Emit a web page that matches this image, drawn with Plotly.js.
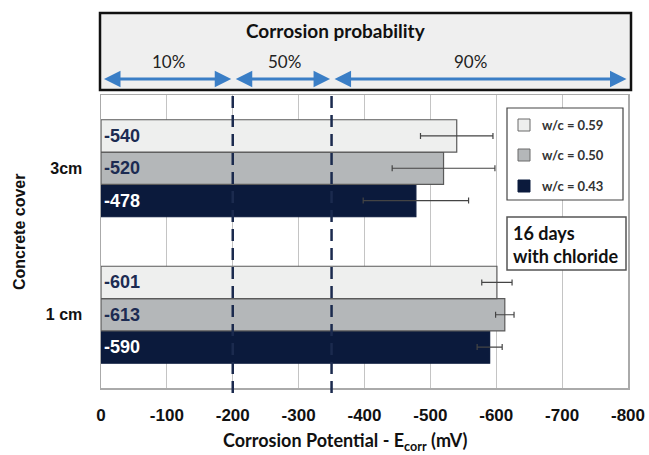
<!DOCTYPE html>
<html>
<head>
<meta charset="utf-8">
<script src="https://cdn.plot.ly/plotly-3.0.1.min.js"></script>
<style>
html,body{margin:0;padding:0;background:#fff;}
#chart{width:649px;height:455px;}
</style>
</head>
<body>
<div id="chart"></div>
<script>
// ---- data ----
const categories = ['3cm', '1 cm'];
const seriesNames = ['w/c = 0.59', 'w/c = 0.50', 'w/c = 0.43'];
const wc059 = [-540, -601];
const wc050 = [-520, -613];
const wc043 = [-478, -590];
const err059 = [55, 23];
const err050 = [78, 14];
const err043 = [80, 19];
const xTickVals = [0, -100, -200, -300, -400, -500, -600, -700, -800];
const xTickText = ['0', '-100', '-200', '-300', '-400', '-500', '-600', '-700', '-800'];
const probabilityBounds = [0, -200, -350, -800];
const probabilityLabels = ['10%', '50%', '90%'];

// ---- styling ----
const colors = ['#eeefee', '#b4b7b9', '#0b1a3c'];
const outlines = ['#5a5a5a', '#5a5a5a', '#0b1a3c'];
const labelColors = ['#1c2b52', '#1c2b52', '#ffffff'];
const ARIAL = 'Liberation Sans, Arial, sans-serif';
const CAL = 'Lato, Carlito, Calibri, sans-serif';

const W = 649, H = 455;
const M = {l: 101, r: 21, t: 95, b: 67};
const PW = W - M.l - M.r, PH = H - M.t - M.b;
const pxX = p => (p - M.l) / PW;
const pxY = p => (H - M.b - p) / PH;

const seriesVals = [wc059, wc050, wc043];
const seriesErr = [err059, err050, err043];

// trace order bottom->top inside group: 0.43, 0.50, 0.59
const traces = [2, 1, 0].map(i => ({
  type: 'bar',
  orientation: 'h',
  name: seriesNames[i],
  y: categories,
  x: seriesVals[i],
  text: seriesVals[i].map(v => String(v)),
  texttemplate: '<b>%{text}</b>',
  textposition: 'inside',
  insidetextanchor: 'start',
  textangle: 0,
  constraintext: 'none',
  insidetextfont: {family: ARIAL, size: 18, color: labelColors[i]},
  marker: {color: colors[i], line: {color: outlines[i], width: 1.2}},
  error_x: {type: 'data', array: seriesErr[i], visible: true, color: '#444444', thickness: 1.2, width: 3},
  hoverinfo: 'none',
  showlegend: false
}));

const shapes = [];
const annotations = [];

// top probability box
shapes.push({type: 'rect', xref: 'paper', yref: 'paper',
  x0: pxX(100), x1: pxX(631), y0: pxY(90), y1: pxY(13),
  fillcolor: '#efefef', line: {color: '#111111', width: 2.5}, layer: 'below'});
annotations.push({xref: 'paper', yref: 'paper', x: pxX(336), y: pxY(30),
  text: '<b>Corrosion probability</b>', showarrow: false,
  font: {family: CAL, size: 19, color: '#111'}, xanchor: 'center', yanchor: 'middle'});

const arrowY = pxY(79);
for (let k = 0; k < probabilityLabels.length; k++) {
  const a = probabilityBounds[k], b = probabilityBounds[k + 1];
  annotations.push({xref: 'x', yref: 'paper', x: b, y: arrowY,
    axref: 'x', ayref: 'pixel', ax: a, ay: 0,
    showarrow: true, arrowside: 'end+start', arrowhead: 2, startarrowhead: 2,
    arrowsize: 1.1, startarrowsize: 1.1, arrowwidth: 3, arrowcolor: '#3a7ec6',
    standoff: 1.5, startstandoff: 1.5, text: ''});
  annotations.push({xref: 'x', yref: 'paper', x: (a + b) / 2 + (k === 2 ? 14 : -3), y: pxY(61),
    text: probabilityLabels[k], showarrow: false,
    font: {family: CAL, size: 17, color: '#222'}, xanchor: 'center', yanchor: 'middle'});
}

// dashed threshold lines
[probabilityBounds[1], probabilityBounds[2]].forEach(v => {
  shapes.push({type: 'line', xref: 'x', yref: 'paper', x0: v, x1: v,
    y0: pxY(393), y1: 1.0, line: {color: '#1b2a4e', width: 2.5, dash: '12px,7px'}, layer: 'above'});
});

// legend box
shapes.push({type: 'rect', xref: 'paper', yref: 'paper',
  x0: pxX(507), x1: pxX(623), y0: pxY(200), y1: pxY(108),
  fillcolor: '#ffffff', line: {color: '#444444', width: 1.2}, layer: 'above'});
const legendYs = [125, 155, 186];
seriesNames.forEach((n, i) => {
  const cy = legendYs[i];
  shapes.push({type: 'rect', xref: 'paper', yref: 'paper',
    x0: pxX(518), x1: pxX(530), y0: pxY(cy + 6), y1: pxY(cy - 6),
    fillcolor: colors[i], line: {color: i === 2 ? colors[2] : '#6a6a6a', width: 1}, layer: 'above'});
  annotations.push({xref: 'paper', yref: 'paper', x: pxX(540), y: pxY(cy),
    text: '<b>' + n + '</b>', showarrow: false, xanchor: 'left', yanchor: 'middle',
    font: {family: CAL, size: 13, color: '#333333'}});
});

// days box
shapes.push({type: 'rect', xref: 'paper', yref: 'paper',
  x0: pxX(507), x1: pxX(626), y0: pxY(270), y1: pxY(217),
  fillcolor: '#ffffff', line: {color: '#555555', width: 1.5}, layer: 'above'});
annotations.push({xref: 'paper', yref: 'paper', x: pxX(511), y: pxY(244),
  text: '<b>16 days<br>with chloride</b>', showarrow: false, xanchor: 'left', yanchor: 'middle', align: 'left',
  font: {family: CAL, size: 18, color: '#111'}});

// axis titles
annotations.push({xref: 'paper', yref: 'paper', x: pxX(345), y: pxY(441),
  text: '<b>Corrosion Potential - E<sub>corr</sub> (mV)</b>', showarrow: false,
  xanchor: 'center', yanchor: 'middle', font: {family: CAL, size: 18, color: '#111'}});
annotations.push({xref: 'paper', yref: 'paper', x: pxX(19), y: pxY(232),
  text: '<b>Concrete cover</b>', showarrow: false, textangle: -90,
  xanchor: 'center', yanchor: 'middle', font: {family: ARIAL, size: 16, color: '#111'}});

const layout = {
  width: W, height: H,
  margin: M,
  paper_bgcolor: '#ffffff', plot_bgcolor: '#ffffff',
  barmode: 'group', bargap: 0.338, bargroupgap: 0,
  showlegend: false,
  xaxis: {
    range: [0, -800], tickvals: xTickVals, ticktext: xTickText,
    showgrid: true, gridcolor: '#c4c4c4', gridwidth: 1, zeroline: false,
    showline: true, linecolor: '#aaaaaa', linewidth: 1.5, mirror: true,
    ticks: '', ticklabelstandoff: 11,
    tickfont: {family: ARIAL, size: 17, color: '#111', weight: 'bold'},
    fixedrange: true
  },
  yaxis: {
    type: 'category', categoryorder: 'array', categoryarray: categories.slice().reverse(),
    range: [-0.5, 1.5],
    showgrid: false, zeroline: false,
    showline: true, linecolor: '#aaaaaa', linewidth: 1.5, mirror: true,
    ticks: '', ticklabelstandoff: 14,
    tickfont: {family: ARIAL, size: 16, color: '#111', weight: 'bold'},
    fixedrange: true
  },
  shapes: shapes,
  annotations: annotations,
  font: {family: ARIAL}
};

Plotly.newPlot('chart', traces, layout, {displayModeBar: false, staticPlot: true});
</script>
</body>
</html>
